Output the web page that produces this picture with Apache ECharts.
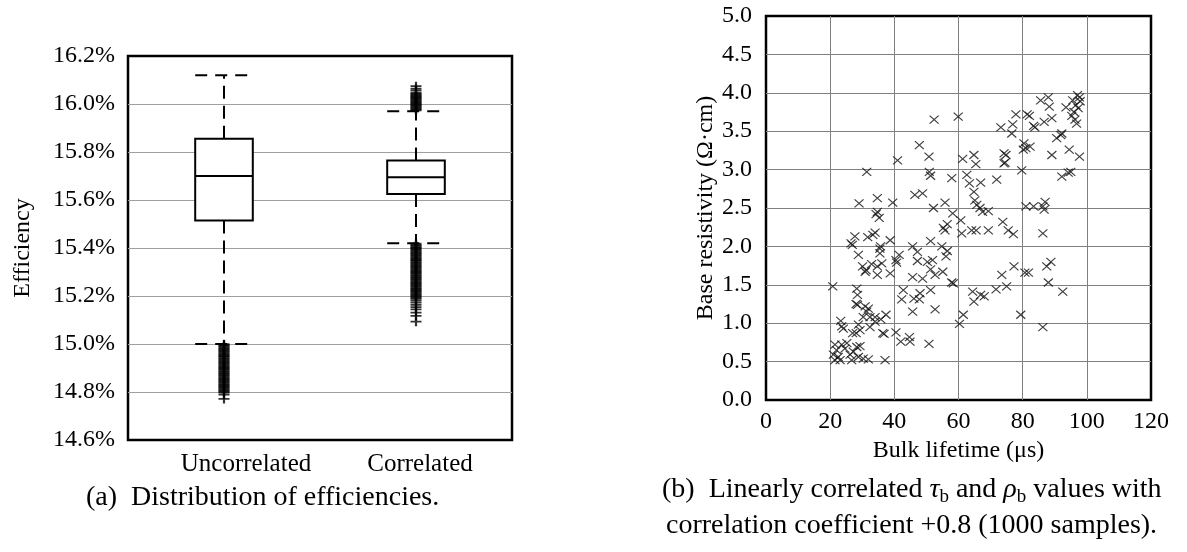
<!DOCTYPE html>
<html>
<head>
<meta charset="utf-8">
<script src="https://cdn.jsdelivr.net/npm/echarts@6/dist/echarts.min.js"></script>
<style>
  html, body { margin: 0; padding: 0; background: #fff; }
  #chart { width: 1187px; height: 552px; }
</style>
</head>
<body>
<div id="chart"></div>
<script>
// ---- (a) efficiency distributions (percent) ----
const categories = ['Uncorrelated', 'Correlated'];
const whiskerLow = [15.00, 15.42];
const quartile1 = [15.515, 15.625];
const medians = [15.70, 15.695];
const quartile3 = [15.855, 15.765];
const whiskerHigh = [16.12, 15.97];
const efficiencyTicks = { min: 14.6, max: 16.2, step: 0.2 };

// outliers beyond the whiskers
const outliersUncorrelated = [
  14.999, 14.995, 14.991, 14.986, 14.982, 14.977, 14.973, 14.968, 14.964, 14.959,
  14.955, 14.950, 14.946, 14.941, 14.937, 14.932, 14.928, 14.923, 14.919, 14.914,
  14.910, 14.905, 14.901, 14.896, 14.892, 14.887, 14.883, 14.878, 14.874, 14.869,
  14.865, 14.860, 14.856, 14.851, 14.847, 14.842, 14.838, 14.833, 14.829, 14.824,
  14.820, 14.815, 14.811, 14.806, 14.802, 14.797, 14.789, 14.771
];
const outliersCorrelatedHigh = [
  15.974, 15.978, 15.982, 15.986, 15.990, 15.994, 15.998, 16.002, 16.006, 16.010,
  16.014, 16.018, 16.022, 16.026, 16.030, 16.034, 16.038, 16.042, 16.046, 16.056,
  16.063, 16.074
];
const outliersCorrelatedLow = [
  15.418, 15.413, 15.409, 15.404, 15.400, 15.395, 15.391, 15.386, 15.382, 15.377,
  15.373, 15.368, 15.364, 15.359, 15.355, 15.350, 15.346, 15.341, 15.337, 15.332,
  15.328, 15.323, 15.319, 15.314, 15.310, 15.305, 15.301, 15.296, 15.292, 15.287,
  15.283, 15.278, 15.274, 15.269, 15.265, 15.260, 15.256, 15.251, 15.247, 15.242,
  15.238, 15.233, 15.229, 15.224, 15.220, 15.215, 15.211, 15.206, 15.202, 15.197,
  15.193, 15.188, 15.181, 15.172, 15.163, 15.154, 15.144, 15.131, 15.117, 15.093
];

// ---- (b) sampled bulk lifetime (µs) and base resistivity (Ω·cm) ----
const lifetime = [
  41.0, 31.4, 29.0, 34.7, 39.5, 34.3, 34.7, 35.3, 26.5, 26.9, 27.7, 31.7, 33.3, 34.0, 38.7, 35.7,
  28.8, 35.5, 41.5, 30.1, 30.9, 32.9, 34.7, 36.1, 34.7, 38.7, 40.7, 40.5, 20.8, 28.3, 28.5, 28.1,
  28.5, 30.9, 31.9, 31.4, 30.3, 32.4, 34.0, 35.8, 37.4, 23.3, 23.6, 24.1, 28.8, 29.3, 28.1, 27.0,
  32.4, 34.0, 36.4, 36.8, 40.5, 42.0, 44.7, 44.9, 42.8, 42.3, 21.5, 23.6, 25.2, 22.0, 21.0, 22.5,
  24.6, 21.5, 23.1, 26.2, 27.2, 28.3, 29.3, 26.7, 28.8, 30.3, 31.9, 37.1, 31.2, 35.5,
  52.4, 59.9, 73.2, 47.8, 50.8, 61.3, 64.8, 65.4, 74.2, 74.2, 50.9, 51.3, 57.9, 62.6, 63.4, 66.9,
  71.9, 46.4, 48.8, 52.2, 55.8, 64.8, 65.1, 65.7, 66.7, 67.5, 69.3, 58.2, 60.7, 61.0, 55.3, 56.5,
  55.8, 64.1, 65.5, 69.3, 73.8, 51.3, 45.7, 47.2, 47.2, 54.8, 56.5, 56.1, 50.3, 51.9, 51.3, 52.7,
  55.1, 45.7, 48.8, 57.9, 73.5, 46.1, 48.0, 47.8, 51.3, 64.4, 64.8, 66.9, 68.0, 71.7, 45.7, 52.7,
  61.5, 60.3, 50.8, 58.4,
  85.6, 88.0, 88.3, 93.5, 95.6, 97.1, 97.7, 96.6, 97.3, 96.0, 95.3, 96.3, 96.8, 97.9, 77.9, 76.9,
  76.6, 81.4, 82.1, 83.4, 83.8, 86.7, 89.1, 90.6, 91.9, 92.2, 80.4, 81.0, 82.3, 80.2, 89.1, 94.5,
  97.7, 79.7, 92.2, 94.2, 95.0, 75.5, 77.1, 86.3, 81.0, 83.4, 86.3, 87.0, 86.7, 75.0, 77.3, 80.7,
  81.8, 87.5, 88.8, 88.0, 92.5, 79.4, 86.3, 74.5, 74.8
];
const resistivity = [
  3.12, 2.97, 2.56, 2.63, 2.57, 2.42, 2.45, 2.37, 2.04, 2.02, 2.13, 2.12, 2.15, 2.18, 2.08, 2.00,
  1.89, 1.91, 1.89, 1.74, 1.67, 1.77, 1.74, 1.78, 1.63, 1.65, 1.79, 1.82, 1.48, 1.45, 1.37, 1.25,
  1.24, 1.22, 1.19, 1.15, 1.08, 1.08, 1.08, 1.05, 1.11, 1.03, 0.96, 0.93, 0.98, 0.91, 0.87, 0.87,
  0.95, 1.02, 0.87, 0.86, 0.88, 0.76, 0.82, 0.76, 1.43, 1.31, 0.72, 0.72, 0.74, 0.65, 0.59, 0.56,
  0.67, 0.52, 0.52, 0.59, 0.63, 0.69, 0.70, 0.52, 0.56, 0.54, 0.53, 0.52, 1.69, 1.97,
  3.65, 3.69, 3.55, 3.32, 3.17, 3.14, 3.19, 3.07, 3.21, 3.08, 2.97, 2.92, 2.89, 2.93, 2.82, 2.83,
  2.87, 2.67, 2.69, 2.50, 2.57, 2.71, 2.60, 2.54, 2.50, 2.45, 2.46, 2.43, 2.34, 2.17, 2.24, 2.29,
  2.21, 2.21, 2.21, 2.21, 2.32, 2.07, 2.00, 1.93, 1.81, 2.00, 1.94, 1.87, 1.80, 1.82, 1.70, 1.63,
  1.67, 1.60, 1.58, 1.53, 1.63, 1.32, 1.39, 1.31, 1.43, 1.41, 1.28, 1.37, 1.35, 1.44, 1.15, 1.18,
  1.11, 0.99, 0.73, 1.52,
  3.90, 3.94, 3.82, 3.81, 3.90, 3.97, 3.94, 3.84, 3.80, 3.75, 3.70, 3.65, 3.60, 3.89, 3.72, 3.59,
  3.47, 3.72, 3.70, 3.57, 3.55, 3.62, 3.67, 3.41, 3.45, 3.47, 3.34, 3.28, 3.30, 3.26, 3.19, 3.26,
  3.17, 2.99, 2.91, 2.96, 2.97, 2.21, 2.16, 2.17, 2.52, 2.52, 2.52, 2.58, 2.48, 1.48, 1.74, 1.66,
  1.66, 1.74, 1.80, 1.53, 1.41, 1.11, 0.95, 3.09, 3.19
];
const lifetimeTicks = { min: 0, max: 120, step: 20 };
const resistivityTicks = { min: 0, max: 5, step: 0.5 };

// ---- drawing ----
const FONT = '"Liberation Serif", "DejaVu Serif", serif';
const chart = echarts.init(document.getElementById('chart'), null, { renderer: 'canvas' });

const boxRows = categories.map((c, i) =>
  [i, whiskerLow[i], quartile1[i], medians[i], quartile3[i], whiskerHigh[i]]);

const outlierPoints = [
  ...outliersUncorrelated.map(v => [0, v]),
  ...outliersCorrelatedHigh.map(v => [1, v]),
  ...outliersCorrelatedLow.map(v => [1, v])
];
const samplePoints = lifetime.map((t, i) => [t, resistivity[i]]);

const PLUS = 'path://M0,5L10,5M5,0L5,10';
const CROSS = 'path://M0,0L10,10M10,0L0,10';

function renderBox(params, api) {
  const cat = api.value(0);
  const half = api.size([1, 0])[0] * 0.15;
  const lo = api.coord([cat, api.value(1)]);
  const q1 = api.coord([cat, api.value(2)]);
  const md = api.coord([cat, api.value(3)]);
  const q3 = api.coord([cat, api.value(4)]);
  const hi = api.coord([cat, api.value(5)]);
  const x = Math.round(md[0]);
  const dash = { stroke: '#000', lineWidth: 2, lineDash: [13, 7], fill: null };
  const cap = { stroke: '#000', lineWidth: 2, lineDash: [12, 8], fill: null };
  const solid = { stroke: '#000', lineWidth: 2, fill: null };
  return {
    type: 'group',
    children: [
      { type: 'line', shape: { x1: x, y1: q3[1], x2: x, y2: hi[1] }, style: dash },
      { type: 'line', shape: { x1: x, y1: q1[1], x2: x, y2: lo[1] }, style: dash },
      { type: 'line', shape: { x1: x - half, y1: hi[1], x2: x + half, y2: hi[1] }, style: cap },
      { type: 'line', shape: { x1: x - half, y1: lo[1], x2: x + half, y2: lo[1] }, style: cap },
      { type: 'rect', shape: { x: x - half, y: q3[1], width: half * 2, height: q1[1] - q3[1] },
        style: { fill: '#fff', stroke: '#000', lineWidth: 2 } },
      { type: 'line', shape: { x1: x - half, y1: md[1], x2: x + half, y2: md[1] }, style: solid }
    ]
  };
}

// horizontal nudges of the two category labels
const labelShift = [44, 8];

const option = {
  animation: false,
  backgroundColor: '#fff',
  textStyle: { fontFamily: FONT, color: '#000' },
  grid: [
    { left: 128, top: 56, width: 384, height: 384, show: true,
      borderColor: '#000', borderWidth: 2.5, backgroundColor: 'transparent' },
    { left: 766, top: 16, width: 385, height: 384, show: true,
      borderColor: '#000', borderWidth: 2.5, backgroundColor: 'transparent' }
  ],
  xAxis: [
    {
      type: 'category', gridIndex: 0, data: categories, boundaryGap: true,
      axisLine: { show: false }, axisTick: { show: false }, splitLine: { show: false },
      axisLabel: {
        margin: 12, interval: 0,
        formatter: (v, i) => '{c' + i + '|' + v + '}',
        rich: {
          c0: { fontFamily: FONT, fontSize: 25, color: '#000', padding: [0, 0, 0, labelShift[0]] },
          c1: { fontFamily: FONT, fontSize: 25, color: '#000', padding: [0, 0, 0, labelShift[1]] }
        }
      }
    },
    {
      type: 'value', gridIndex: 1,
      min: lifetimeTicks.min, max: lifetimeTicks.max, interval: lifetimeTicks.step,
      name: 'Bulk lifetime (μs)', nameLocation: 'middle', nameGap: 38,
      nameTextStyle: { fontFamily: FONT, fontSize: 24, color: '#000' },
      axisLine: { show: false }, axisTick: { show: false },
      axisLabel: { margin: 10, fontFamily: FONT, fontSize: 24, color: '#000' },
      splitLine: { show: true, showMinLine: false, showMaxLine: false,
        lineStyle: { color: '#808080', width: 1 } }
    }
  ],
  yAxis: [
    {
      type: 'value', gridIndex: 0,
      min: efficiencyTicks.min, max: efficiencyTicks.max, interval: efficiencyTicks.step,
      name: 'Efficiency', nameLocation: 'middle', nameGap: 93,
      nameTextStyle: { fontFamily: FONT, fontSize: 24, color: '#000' },
      axisLine: { show: false }, axisTick: { show: false },
      axisLabel: { margin: 13, fontFamily: FONT, fontSize: 24, color: '#000',
        formatter: v => v.toFixed(1) + '%' },
      splitLine: { show: true, showMinLine: false, showMaxLine: false,
        lineStyle: { color: '#a0a0a0', width: 1 } }
    },
    {
      type: 'value', gridIndex: 1,
      min: resistivityTicks.min, max: resistivityTicks.max, interval: resistivityTicks.step,
      name: 'Base resistivity (Ω·cm)', nameLocation: 'middle', nameGap: 43,
      nameTextStyle: { fontFamily: FONT, fontSize: 24, color: '#000' },
      axisLine: { show: false }, axisTick: { show: false },
      axisLabel: { margin: 14, fontFamily: FONT, fontSize: 24, color: '#000',
        formatter: v => v.toFixed(1) },
      splitLine: { show: true, showMinLine: false, showMaxLine: false,
        lineStyle: { color: '#808080', width: 1 } }
    }
  ],
  series: [
    {
      type: 'custom', name: 'Efficiency box', xAxisIndex: 0, yAxisIndex: 0,
      renderItem: renderBox, data: boxRows,
      encode: { x: 0, y: [1, 2, 3, 4, 5] }, z: 2
    },
    {
      type: 'scatter', name: 'Efficiency outliers', xAxisIndex: 0, yAxisIndex: 0,
      data: outlierPoints, symbol: PLUS, symbolSize: [11, 9],
      itemStyle: { color: 'none', borderColor: '#000', borderWidth: 2 },
      z: 3
    },
    {
      type: 'scatter', name: 'Samples', xAxisIndex: 1, yAxisIndex: 1,
      data: samplePoints, symbol: CROSS, symbolSize: [9, 8],
      itemStyle: { color: 'none', borderColor: '#111', borderWidth: 1.15 },
      z: 3
    }
  ],
  graphic: [
    { type: 'text', x: 86, y: 498,
      style: { text: '(a)  Distribution of efficiencies.', font: '28px ' + FONT,
        fill: '#000', align: 'left', verticalAlign: 'middle' } },
    { type: 'text', x: 662, y: 490,
      style: {
        text: '(b)  Linearly correlated {gi|τ}{sb|b} and {gi|ρ}{sb|b} values with',
        font: '28px ' + FONT, fill: '#000', align: 'left', verticalAlign: 'middle',
        rich: {
          gi: { fontFamily: FONT, fontSize: 28, fontStyle: 'italic', color: '#000', lineHeight: 34 },
          sb: { fontFamily: FONT, fontSize: 19, color: '#000', lineHeight: 22, verticalAlign: 'bottom' }
        }
      } },
    { type: 'text', x: 666, y: 526,
      style: { text: 'correlation coefficient +0.8 (1000 samples).', font: '28px ' + FONT,
        fill: '#000', align: 'left', verticalAlign: 'middle' } }
  ]
};

chart.setOption(option);
</script>
</body>
</html>
